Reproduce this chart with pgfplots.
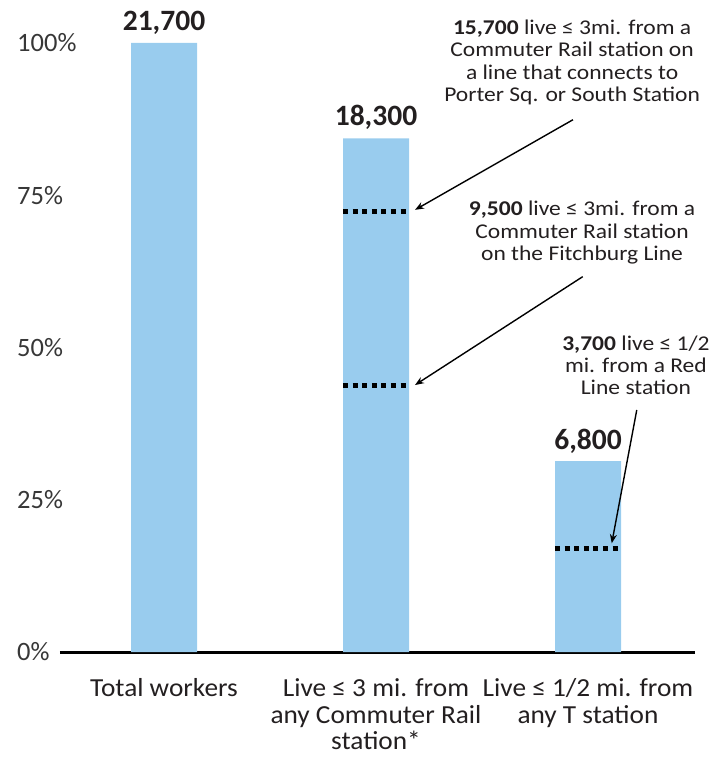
\documentclass[border=0pt]{standalone}
\usepackage{pgfplots}
\pgfplotsset{compat=1.18}
\usetikzlibrary{arrows.meta}
\usepackage{fontspec}
\setmainfont{Carlito}
\newfontfamily\annfont{Carlito}[FakeStretch=1.12]
\newfontfamily\catfont{Carlito}[FakeStretch=1.05]
\definecolor{barblue}{RGB}{153,204,238}
\definecolor{txt}{RGB}{35,31,32}
\definecolor{ticktxt}{RGB}{55,55,55}
\begin{document}
\begin{tikzpicture}
\useasboundingbox (0,0) rectangle (725pt,761pt);
\begin{axis}[
  at={(60pt,109pt)}, anchor=south west,
  scale only axis, width=635pt, height=609pt,
  xmin=-0.4906, xmax=2.5047, ymin=0, ymax=100,
  clip=false,
  axis x line*=bottom, axis y line*=left,
  x axis line style={line width=3pt, black, -},
  y axis line style={draw=none},
  xtick={0,1,2},
  xticklabels={Total workers, Live ≤ 3 mi. from\\any Commuter Rail\\station*, Live ≤ 1/2 mi. from\\any T station},
  xtick style={draw=none},
  xticklabel style={anchor=north, align=center, inner sep=0pt, yshift=-26.5pt, text=txt, font=\catfont\fontsize{26}{26.5}\selectfont},
  ytick={0,25,50,75,100},
  yticklabels={0\%,25\%,50\%,75\%,100\%},
  ytick style={draw=none},
  yticklabel style={anchor=west, inner sep=0pt, xshift=-43pt, text=ticktxt, font=\fontsize{26.5}{28}\selectfont},
]
\addplot[ybar, bar width=66pt, fill=barblue, draw=none] coordinates {(0,100) (1,84.33) (2,31.34)};

% dotted sub-levels
\addplot[black, line width=5pt, dash pattern=on 5pt off 4.6pt] coordinates {(0.8443,72.35) (1.1557,72.35)};
\addplot[black, line width=5pt, dash pattern=on 5pt off 4.6pt] coordinates {(0.8443,43.78) (1.1557,43.78)};
\addplot[black, line width=5pt, dash pattern=on 5pt off 4.6pt] coordinates {(1.8443,17.05) (2.1557,17.05)};

% value labels
\node[anchor=base, inner sep=0pt, text=txt, font=\fontsize{29.5}{30}\selectfont\bfseries] at (axis cs:0,101.97) {21,700};
\node[anchor=base, inner sep=0pt, text=txt, font=\fontsize{29.5}{30}\selectfont\bfseries] at (axis cs:1,86.5) {18,300};
\node[anchor=base, inner sep=0pt, text=txt, font=\fontsize{29.5}{30}\selectfont\bfseries] at (axis cs:2,33.2) {6,800};

% annotations
\node[anchor=north, align=center, inner sep=0pt, text=txt, font=\annfont\fontsize{21}{22.3}\selectfont] at (axis cs:1.925,103.8)
  {\textbf{15,700} live ≤ 3mi. from a\\Commuter Rail station on\\a line that connects to\\Porter Sq. or South Station};
\node[anchor=north, align=center, inner sep=0pt, text=txt, font=\annfont\fontsize{21}{22.3}\selectfont] at (axis cs:1.972,74.06)
  {\textbf{9,500} live ≤ 3mi. from a\\Commuter Rail station\\on the Fitchburg Line};
\node[anchor=north, align=center, inner sep=0pt, text=txt, font=\annfont\fontsize{21}{21.8}\selectfont] at (axis cs:2.226,51.9)
  {\textbf{3,700} live ≤ 1/2\\mi. from a Red\\Line station};

% arrows
\draw[line width=1.4pt, -{Stealth[length=9pt,width=7pt]}] (axis cs:1.929,87.4) -- (axis cs:1.184,72.6);
\draw[line width=1.4pt, -{Stealth[length=9pt,width=7pt]}] (axis cs:1.975,61.63) -- (axis cs:1.184,43.84);
\draw[line width=1.4pt, -{Stealth[length=9pt,width=7pt]}] (axis cs:2.23,39.74) -- (axis cs:2.112,17.85);
\end{axis}
\end{tikzpicture}
\end{document}
